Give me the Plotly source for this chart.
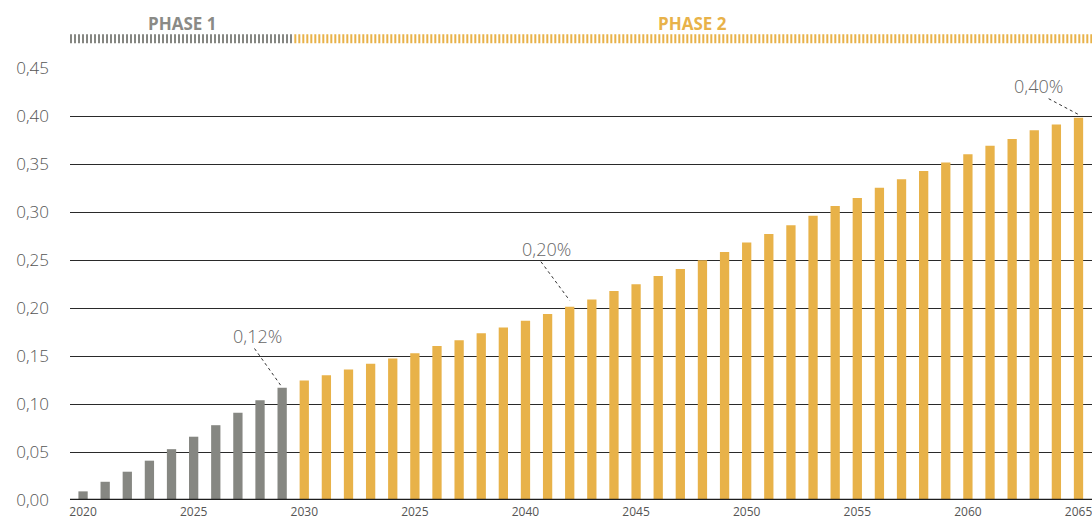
import plotly.graph_objects as go

# ---------------- data ----------------
phase1_years = list(range(2020, 2030))
phase1_values = [0.009, 0.019, 0.0295, 0.041, 0.053, 0.066, 0.078, 0.091, 0.104, 0.117]

phase2_years = list(range(2030, 2066))
phase2_values = [0.1245, 0.130, 0.136, 0.142, 0.1475, 0.153, 0.1605, 0.1665, 0.174, 0.180,
                 0.187, 0.194, 0.2015, 0.209, 0.218, 0.225, 0.2335, 0.241, 0.250, 0.2585,
                 0.2685, 0.2775, 0.2865, 0.2965, 0.3065, 0.315, 0.3255, 0.3345, 0.343, 0.352,
                 0.3605, 0.3695, 0.3765, 0.3855, 0.3915, 0.3985]

tick_years = [2020, 2025, 2030, 2035, 2040, 2045, 2050, 2055, 2060, 2065]
tick_labels = ["2020", "2025", "2030", "2025", "2040", "2045", "2050", "2055", "2060", "2065"]

y_ticks = [0.0, 0.05, 0.10, 0.15, 0.20, 0.25, 0.30, 0.35, 0.40, 0.45]

phase_labels = ["PHASE 1", "PHASE 2"]

callout_years = [2029, 2042, 2065]
callout_texts = ["0,12%", "0,20%", "0,40%"]

# ---------------- styles ----------------
GRAY = "#868782"
GOLD = "#E8B249"
TXT = "#555555"
FONT = "Open Sans"

x_min, x_max = 2019.41, 2065.61
split = 2029.5

# per-callout layout offsets (text dx, text dy, line-start dx, line-start dy, line-end dy)
callout_offsets = [
    (-1.11, 0.054, -1.25, 0.041, 0.0005),
    (-1.05, 0.0605, -1.30, 0.047, 0.0065),
    (-1.80, 0.033, -1.35, 0.020, 0.0035),
]

fig = go.Figure()
fig.add_trace(go.Bar(x=phase1_years, y=phase1_values, marker_color=GRAY,
                     marker_line_width=0, width=0.42, hoverinfo="x+y"))
fig.add_trace(go.Bar(x=phase2_years, y=phase2_values, marker_color=GOLD,
                     marker_line_width=0, width=0.42, hoverinfo="x+y"))

all_years = phase1_years + phase2_years
all_values = phase1_values + phase2_values
value_of = dict(zip(all_years, all_values))

shapes = []
annotations = []

# baseline
shapes.append(dict(type="line", xref="paper", yref="y", x0=0, x1=1, y0=0, y1=0,
                   line=dict(color="#1e1e1e", width=2.5), layer="above"))

# hatched phase bands
band_y = 1.0676
shapes.append(dict(type="line", xref="x", yref="paper", x0=x_min, x1=split, y0=band_y, y1=band_y,
                   line=dict(color=GRAY, width=9, dash="2px,2px")))
shapes.append(dict(type="line", xref="x", yref="paper", x0=split + 0.05, x1=x_max, y0=band_y, y1=band_y,
                   line=dict(color=GOLD, width=9, dash="2px,2px")))

# phase labels
label_y = 1.1035
annotations.append(dict(x=(x_min + split) / 2, y=label_y, xref="x", yref="paper",
                        yanchor="middle", text="<b>" + phase_labels[0] + "</b>", showarrow=False,
                        font=dict(family=FONT, size=17, color="#8a8a86")))
annotations.append(dict(x=(split + x_max) / 2, y=label_y, xref="x", yref="paper",
                        yanchor="middle", text="<b>" + phase_labels[1] + "</b>", showarrow=False,
                        font=dict(family=FONT, size=17, color=GOLD)))

# callouts
for yr, txt, off in zip(callout_years, callout_texts, callout_offsets):
    v = value_of[yr]
    tdx, tdy, ldx, ldy, edy = off
    annotations.append(dict(x=yr + tdx, y=v + tdy, xref="x", yref="y", text=txt,
                            showarrow=False,
                            font=dict(family=FONT, size=18, color="#666666", weight=300)))
    shapes.append(dict(type="line", xref="x", yref="y", x0=yr + ldx, y0=v + ldy,
                       x1=yr, y1=v + edy, line=dict(color="#333333", width=1, dash="dot")))

fig.update_layout(
    width=1092, height=520,
    margin=dict(l=70, r=0, t=68, b=20),
    paper_bgcolor="white", plot_bgcolor="white",
    showlegend=False,
    separators=", ",
    bargap=0.5,
    shapes=shapes,
    annotations=annotations,
    font=dict(family=FONT, color=TXT),
)
fig.update_xaxes(range=[x_min, x_max], tickmode="array", tickvals=tick_years, ticktext=tick_labels,
                 showgrid=False, zeroline=False, showline=False, ticks="",
                 ticklabeloverflow="allow", ticklabelstandoff=3,
                 tickfont=dict(family=FONT, size=12, color=TXT), automargin=False)
fig.update_yaxes(range=[0, 0.4505], tickmode="array", tickvals=y_ticks, tickformat=".2f",
                 showgrid=True, gridcolor="#2a2a2a", gridwidth=1, zeroline=False, showline=False,
                 ticks="", ticklabelstandoff=20,
                 tickfont=dict(family=FONT, size=17, color=TXT, weight=300), automargin=False)

fig.write_html("out.html", config={"displayModeBar": False},
               post_script="document.body.style.margin='0';document.body.style.overflow='hidden';")
